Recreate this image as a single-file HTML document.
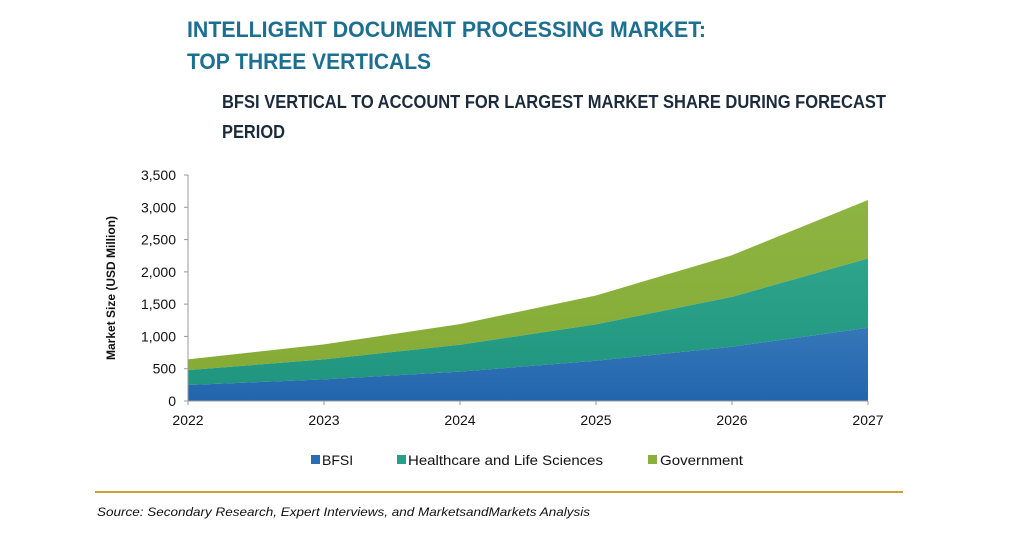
<!DOCTYPE html>
<html><head><meta charset="utf-8"><style>
html,body{margin:0;padding:0;background:#fff;width:1024px;height:536px;overflow:hidden}
text{font-family:"Liberation Sans",Arial,sans-serif}
</style></head><body>
<svg id="chart" width="1024" height="536" viewBox="0 0 1024 536" xmlns="http://www.w3.org/2000/svg">
<defs>
<linearGradient id="gB" x1="0" y1="0" x2="0" y2="1"><stop offset="0" stop-color="#3577b8"/><stop offset="1" stop-color="#2265ad"/></linearGradient>
<linearGradient id="gH" x1="0" y1="0" x2="0" y2="1"><stop offset="0" stop-color="#2ea48c"/><stop offset="1" stop-color="#20957f"/></linearGradient>
<linearGradient id="gG" x1="0" y1="0" x2="0" y2="1"><stop offset="0" stop-color="#8db443"/><stop offset="1" stop-color="#86ac36"/></linearGradient>
</defs>
<text x="187" y="37" font-size="22" font-weight="bold" fill="#1c6f90" textLength="519" lengthAdjust="spacingAndGlyphs">INTELLIGENT DOCUMENT PROCESSING MARKET:</text>
<text x="187" y="69" font-size="22" font-weight="bold" fill="#1c6f90" textLength="244" lengthAdjust="spacingAndGlyphs">TOP THREE VERTICALS</text>
<text x="222" y="108" font-size="18" font-weight="bold" fill="#1b2b3b" textLength="664" lengthAdjust="spacingAndGlyphs">BFSI VERTICAL TO ACCOUNT FOR LARGEST MARKET SHARE DURING FORECAST</text>
<text x="222" y="138" font-size="18" font-weight="bold" fill="#1b2b3b" textLength="63" lengthAdjust="spacingAndGlyphs">PERIOD</text>
<g id="plot"></g>
<text transform="translate(115,288) rotate(-90)" text-anchor="middle" font-size="12" font-weight="bold" fill="#111">Market Size (USD Million)</text>
<g>
<rect x="311" y="455" width="9" height="9" fill="#2b6db3"/>
<text x="322" y="465" font-size="14" fill="#111">BFSI</text>
<rect x="397" y="455" width="9" height="9" fill="#26a088"/>
<text x="408" y="465" font-size="14" fill="#111" textLength="195" lengthAdjust="spacingAndGlyphs">Healthcare and Life Sciences</text>
<rect x="648" y="455" width="9" height="9" fill="#89b03c"/>
<text x="660" y="465" font-size="14" fill="#111" textLength="83" lengthAdjust="spacingAndGlyphs">Government</text>
</g>
<line x1="95" y1="492" x2="903" y2="492" stroke="#c9a23a" stroke-width="2"/>
<text x="97" y="516" font-size="12" font-style="italic" fill="#111" textLength="493" lengthAdjust="spacingAndGlyphs">Source: Secondary Research, Expert Interviews, and MarketsandMarkets Analysis</text>
</svg>
<script>
const years = ["2022","2023","2024","2025","2026","2027"];
const bfsi = [247, 335, 454, 624, 840, 1134];
const healthcare = [232, 309, 417, 562, 773, 1072];
const government = [165, 232, 320, 448, 645, 907];
const yTicks = [0, 500, 1000, 1500, 2000, 2500, 3000, 3500];
const yTickLabels = ["0","500","1,000","1,500","2,000","2,500","3,000","3,500"];

const NS = "http://www.w3.org/2000/svg";
const X0 = 188, X1 = 868, Y0 = 401, Y1 = 175, YMAX = 3500;
const xScale = i => X0 + (X1 - X0) * i / (years.length - 1);
const yScale = v => Y0 - (Y0 - Y1) * v / YMAX;
const plot = document.getElementById("plot");

function mk(tag, attrs) {
  const el = document.createElementNS(NS, tag);
  for (const k in attrs) el.setAttribute(k, attrs[k]);
  plot.appendChild(el);
  return el;
}

const base0 = years.map(() => 0);
const top1 = bfsi.map((v, i) => v);
const top2 = bfsi.map((v, i) => v + healthcare[i]);
const top3 = top2.map((v, i) => v + government[i]);

function areaPath(lower, upper) {
  let d = "";
  upper.forEach((v, i) => { d += (i ? "L" : "M") + xScale(i) + "," + yScale(v); });
  for (let i = lower.length - 1; i >= 0; i--) d += "L" + xScale(i) + "," + yScale(lower[i]);
  return d + "Z";
}

const gov = mk("path", {d: areaPath(top2, top3), fill: "url(#gG)"});


const hls = mk("path", {d: areaPath(top1, top2), fill: "url(#gH)"});


const bf = mk("path", {d: areaPath(base0, top1), fill: "url(#gB)"});



const yAxis = mk("line", {x1: X0, y1: Y1, x2: X0, y2: Y0, stroke: "#999", "stroke-width": 1});


const xAxis = mk("line", {x1: X0, y1: Y0, x2: X1, y2: Y0, stroke: "#999", "stroke-width": 1});



yTicks.forEach((t, i) => {
  const tk = mk("line", {x1: X0 - 4, y1: yScale(t), x2: X0, y2: yScale(t), stroke: "#999"});
  
  
  const lb = mk("text", {x: X0 - 12, y: yScale(t) + 5, "text-anchor": "end", "font-size": 14, fill: "#111"});
  lb.textContent = yTickLabels[i];
  
  
});
years.forEach((yr, i) => {
  const tk = mk("line", {x1: xScale(i), y1: Y0, x2: xScale(i), y2: Y0 + 4, stroke: "#999"});
  
  
  const lb = mk("text", {x: xScale(i), y: Y0 + 24, "text-anchor": "middle", "font-size": 14, fill: "#111"});
  lb.textContent = yr;
  
  
});
</script>
</body></html>
